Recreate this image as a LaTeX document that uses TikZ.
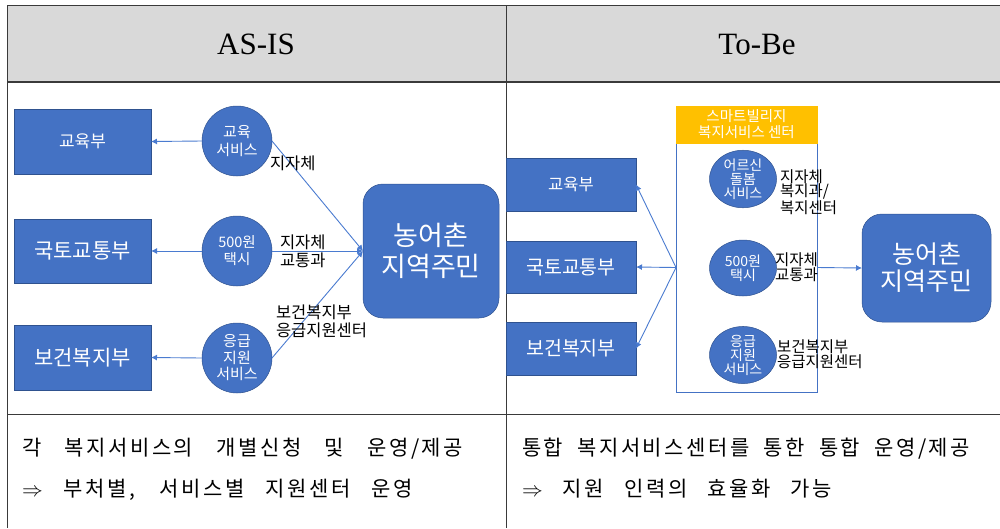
\documentclass[tikz,border=0pt]{standalone}
\usepackage{fontspec}
\setmainfont{Liberation Serif}
\newfontfamily\kr{Noto Sans CJK KR}
\newfontfamily\krs[LetterSpace=12]{Noto Sans CJK KR}
\usetikzlibrary{arrows.meta,shapes.geometric}
\definecolor{bfill}{HTML}{4472C4}
\definecolor{bdraw}{HTML}{2F528F}
\definecolor{lblue}{HTML}{4A7BD0}
\definecolor{hgray}{HTML}{D9D9D9}
\definecolor{org}{HTML}{FFC000}
\definecolor{tline}{HTML}{3A3A3A}
\newcommand{\fsz}[2]{\fontsize{#1}{#2}\selectfont}
\begin{document}
\begin{tikzpicture}[x=1pt,y=-1pt,
  every node/.style={inner sep=0pt, outer sep=0pt},
  dept/.style={draw=bdraw, line width=0.5pt, fill=bfill, text=white, align=center},
  svc/.style={circle, draw=bdraw, line width=0.5pt, fill=bfill, text=white, align=center, minimum size=70pt},
  svcr/.style={ellipse, draw=bdraw, line width=0.5pt, fill=bfill, text=white, align=center, minimum width=67pt, minimum height=56pt},
  resid/.style={draw=bdraw, line width=0.5pt, fill=bfill, text=white, align=center, rounded corners=20pt},
  lbl/.style={anchor=west, align=left, text=black},
  btxt/.style={anchor=base west, font={\krs\fsz{21}{24}}},
  arr/.style={draw=lblue, line width=0.9pt, -{Latex[length=6pt,width=6pt]}},
  tl/.style={draw=tline, line width=1pt}
]
\useasboundingbox (0,0) rectangle (1000,528);
% table
\fill[hgray] (7,5) rectangle (1000,82);
\draw[tl] (7,5) -- (1000,5);
\draw[draw=tline, line width=1.8pt] (7,82) -- (1000,82);
\draw[tl] (7,414) -- (1000,414);
\draw[tl] (7,5) -- (7,528);
\draw[tl] (506,5) -- (506,528);
\node[font={\rmfamily\fsz{31}{34}}] (h1) at (256,44) {AS-IS};
\node[font={\rmfamily\fsz{31}{34}}] (h2) at (757,44) {To-Be};

% ===== AS-IS =====
\node[dept, minimum width=137pt, minimum height=65pt, font={\kr\fsz{17}{20}}] (b1) at (82.5,141.5) {교육부};
\node[dept, minimum width=137pt, minimum height=64pt, font={\kr\fsz{21}{24}}] (b2) at (82.5,251) {국토교통부};
\node[dept, minimum width=137pt, minimum height=65pt, font={\kr\fsz{21}{24}}] (b3) at (82.5,357.5) {보건복지부};
\node[svc, font={\kr\fsz{15}{18}}] (c1) at (237,141) {교육\\서비스};
\node[svc, font={\kr\fsz{14.5}{17}}] (c2) at (237,251) {500원\\택시};
\node[svc, font={\kr\fsz{15}{16.5}}] (c3) at (237,358) {응급\\지원\\서비스};
\node[resid, minimum width=136pt, minimum height=134pt, font={\kr\fsz{27}{31}}] (n1) at (431,251) {농어촌\\지역주민};
\draw[arr] (c1.west) -- (b1.east);
\draw[arr] (c2.west) -- (b2.east);
\draw[arr] (c3.west) -- (b3.east);
\draw[arr] (c1.east) -- (n1.west);
\draw[arr] (c2.east) -- (n1.west);
\draw[arr] (c3.east) -- (n1.west);
\node[lbl, font={\kr\fsz{16.5}{18}}] (l1) at (270,163) {지자체};
\node[lbl, font={\kr\fsz{16.5}{18}}] (l2) at (280,251) {지자체\\교통과};
\node[lbl, font={\kr\fsz{16.5}{18}}] (l3) at (276,321) {보건복지부\\응급지원센터};

% ===== To-Be =====
\node[dept, minimum width=130pt, minimum height=53pt, font={\kr\fsz{16.5}{18}}] (r1) at (571,184.5) {교육부};
\node[dept, minimum width=130pt, minimum height=52pt, font={\kr\fsz{19.5}{22}}] (r2) at (571,267) {국토교통부};
\node[dept, minimum width=130pt, minimum height=53pt, font={\kr\fsz{19.5}{22}}] (r3) at (571,348.5) {보건복지부};
\node[draw=bfill, line width=0.8pt, minimum width=141pt, minimum height=249pt] (cont) at (746.5,267.5) {};
\node[fill=org, draw=org, text=white, align=center, minimum width=141pt, minimum height=37pt, font={\kr\fsz{14.5}{16}}] (hdr) at (746.5,124.5) {스마트빌리지\\복지서비스 센터};
\node[svcr, font={\kr\fsz{14}{14}}] (e1) at (743,179) {어르신\\돌봄\\서비스};
\node[svcr, font={\kr\fsz{14}{14}}] (e2) at (743,268) {500원\\택시};
\node[svcr, minimum height=57pt, font={\kr\fsz{14}{14}}] (e3) at (743,355) {응급\\지원\\서비스};
\node[resid, minimum width=129pt, minimum height=108pt, font={\kr\fsz{25}{27}}] (n2) at (926.5,268) {농어촌\\지역주민};
\draw[arr] (cont.west) -- (r1.east);
\draw[arr] (cont.west) -- (r2.east);
\draw[arr] (cont.west) -- (r3.east);
\draw[arr] (cont.east) -- (n2.west);
\node[lbl, font={\kr\fsz{15.5}{14.5}}] (m1) at (780,192) {지자체\\복지과/\\복지센터};
\node[lbl, font={\kr\fsz{15.5}{14.5}}] (m2) at (775,267) {지자체\\교통과};
\node[lbl, font={\kr\fsz{15.5}{15}}] (m3) at (777,354.5) {보건복지부\\응급지원센터};

% ===== bottom row =====
\node[btxt] (t1) at (22,455) {\makebox[441pt][s]{각 복지서비스의 개별신청 및 운영/제공}};
\node[btxt] (t2) at (22,496) {\makebox[391pt][s]{$\Rightarrow$ 부처별, 서비스별 지원센터 운영}};
\node[btxt] (t3) at (522,455) {\makebox[448pt][s]{통합 복지서비스센터를 통한 통합 운영/제공}};
\node[btxt] (t4) at (522,496) {\makebox[310pt][s]{$\Rightarrow$ 지원 인력의 효율화 가능}};
\end{tikzpicture}
\end{document}
